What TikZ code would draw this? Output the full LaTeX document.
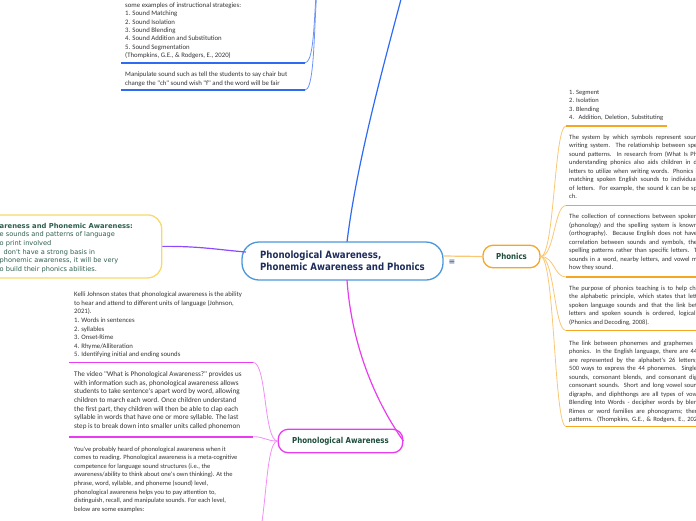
\documentclass[tikz,border=0pt]{standalone}
\usepackage{fontspec}
\setmainfont{Carlito}
\newfontfamily\bodyf{Carlito}
\newfontfamily\headf[FakeStretch=0.86]{DejaVu Sans}
\newfontfamily\yelf{DejaVu Sans}
\definecolor{cblue}{HTML}{4A98DC}
\definecolor{navy}{HTML}{1F2D5C}
\definecolor{orng}{HTML}{F5A623}
\definecolor{orngl}{HTML}{F9C774}
\definecolor{mag}{HTML}{E93CF0}
\definecolor{magl}{HTML}{F28EF6}
\definecolor{yel}{HTML}{F7DA6A}
\definecolor{purp}{HTML}{8C4BFF}
\definecolor{bblue}{HTML}{2F6BF0}
\definecolor{bbluel}{HTML}{6D93F5}
\definecolor{ngreen}{HTML}{1E4D3B}
\definecolor{ytext}{HTML}{2E5E4E}
\definecolor{bodytext}{HTML}{333333}
\newcommand{\cutl}[1]{\makebox[128pt][s]{#1}}
\tikzset{
  body/.style={font=\bodyf\fontsize{6.5}{8.5}\selectfont, text=bodytext, align=left,
    anchor=north west, inner sep=0pt, execute at begin node={\rule{0pt}{5pt}}},
  central/.style={draw=cblue, line width=1.3pt, fill=white, rounded corners=17pt,
    font=\headf\bfseries\fontsize{10}{12}\selectfont, text=navy, align=left,
    minimum width=201pt, minimum height=38pt, inner sep=0pt},
  topic/.style={line width=1.3pt, fill=white, rounded corners=10pt,
    font=\headf\bfseries\fontsize{8.2}{10}\selectfont, text=ngreen, inner sep=0pt},
  uline/.style={line width=1.6pt},
  conn/.style={line width=0.8pt},
}
\begin{document}
\begin{tikzpicture}[x=1pt,y=-1pt]
\useasboundingbox (0,0) rectangle (696,520);
\clip (0,0) rectangle (696,520);

% main connectors (behind nodes)
\coordinate (ctop) at (347,242);
\coordinate (cbot) at (347,280);
\coordinate (bluepar) at (404,-12);
\coordinate (pb) at (325,-40);
\draw[bblue, line width=1.2pt] (ctop) .. controls (357,160) and (385,60) .. (bluepar);

% central node
\node[central] (c) at (342.5,261) {Phonological Awareness,\\Phonemic Awareness and Phonics};
\node[font=\yelf\fontsize{8}{8}\selectfont, text=navy!80!cblue, inner sep=0pt] (menu) at (452,262) {≡};

% Phonics
\node[topic, draw=orng, minimum width=57pt, minimum height=22.5pt] (ph) at (511.5,256.5) {Phonics};
\draw[orngl, line width=1.2pt] ([yshift=5pt]c.east) -- (ph.west);

% Phonological Awareness
\node[topic, draw=mag, minimum width=124.5pt, minimum height=23.5pt] (pa) at (340.5,441) {Phonological Awareness};
\draw[mag, line width=1.2pt] (cbot) .. controls (352,350) and (378,405) .. (pa.east);

% yellow node
\node[draw=yel, line width=1.3pt, fill=white, rounded corners=14pt, minimum width=200pt, minimum height=63pt, inner sep=0pt] (y) at (61.7,246.4) {};
\node[font=\yelf\fontsize{6.6}{8.6}\selectfont, text=ytext, align=left, anchor=north west, inner sep=0pt,
  execute at begin node={\rule{0pt}{5pt}}] (yt) at (-0.5,223)
  {{\bfseries\fontsize{6.8}{8.6}\selectfont areness and Phonemic Awareness:}\\e sounds and patterns of language\\o print involved\\\hphantom{i} don't have a strong basis in\\phonemic awareness, it will be very\\o build their phonics abilities.};
\coordinate (cw) at (246,252);
\draw[purp, line width=1.2pt] (y.east) .. controls (200,246) and (220,250) .. (cw);

% ---------- Phonics children ----------
\coordinate (o1s) at (566,126);   \coordinate (o1e) at (667,126);
\coordinate (o2s) at (566,205.5); \coordinate (o2e) at (700,205.5);
\coordinate (o3s) at (566,277);   \coordinate (o3e) at (700,277);
\coordinate (o4s) at (566,330.5); \coordinate (o4e) at (700,330.5);
\coordinate (o5s) at (566,426.5); \coordinate (o5e) at (700,426.5);
\foreach \k in {1,...,5}{
  \draw[orngl, conn] (ph.east) .. controls +(14,0) and +(-12,0) .. (o\k s);
  \draw[orng, uline] (o\k s) -- (o\k e);
}
\node[body] (b1) at (569,90) {1. Segment\\2. Isolation\\3. Blending\\\makebox[94pt][s]{4. Addition, Deletion, Substituting}};
\node[body] (b2) at (569,134.3) {\cutl{The system by which symbols represent soun}\\\cutl{writing system. The relationship between spe}\\\cutl{sound patterns. In research from (What Is Ph}\\\cutl{understanding phonics also aids children in d}\\\cutl{letters to utilize when writing words. Phonics i}\\\cutl{matching spoken English sounds to individual}\\\cutl{of letters. For example, the sound k can be sp}\\ch.};
\node[body] (b3) at (569,214) {\cutl{The collection of connections between spoken}\\\cutl{(phonology) and the spelling system is known}\\\cutl{(orthography). Because English does not have}\\\cutl{correlation between sounds and symbols, the}\\\cutl{spelling patterns rather than specific letters. T}\\\cutl{sounds in a word, nearby letters, and vowel m}\\how they sound.};
\node[body] (b4) at (569,285.3) {\cutl{The purpose of phonics teaching is to help chi}\\\cutl{the alphabetic principle, which states that lett}\\\cutl{spoken language sounds and that the link bet}\\\cutl{letters and spoken sounds is ordered, logical,}\\(Phonics and Decoding, 2008).};
\node[body] (b5) at (569,340.6) {\cutl{The link between phonemes and graphemes i}\\\cutl{phonics. In the English language, there are 44}\\\cutl{are represented by the alphabet's 26 letters;}\\\cutl{500 ways to express the 44 phonemes. Single}\\\cutl{sounds, consonant blends, and consonant dig}\\\cutl{consonant sounds. Short and long vowel soun}\\\cutl{digraphs, and diphthongs are all types of vow}\\\cutl{Blending Into Words - decipher words by blen}\\\cutl{Rimes or word families are phonograms; ther}\\\cutl{patterns. (Thompkins, G.E., \& Rodgers, E., 202}};

% ---------- top-left (blue) ----------
\coordinate (t1s) at (121,62.7); \coordinate (t1e) at (305,62.7);
\coordinate (t2s) at (121,90);   \coordinate (t2e) at (305,90);
\draw[bbluel, conn] (pb) .. controls +(-14,0) and +(14,0) .. (t1e);
\draw[bbluel, conn] (pb) .. controls +(-14,0) and +(14,0) .. (t2e);
\draw[bblue, uline] (t1s) -- (t1e);
\draw[bblue, uline] (t2s) -- (t2e);
\node[body, font=\bodyf\fontsize{6.8}{8.4}\selectfont] (tl1) at (125,2.3) {some examples of instructional strategies:\\1. Sound Matching\\2. Sound Isolation\\3. Sound Blending\\4. Sound Addition and Substitution\\5. Sound Segmentation\\(Thompkins, G.E., \& Rodgers, E., 2020)};
\node[body, font=\bodyf\fontsize{6.8}{9.3}\selectfont] (tl2) at (125,71.3) {Manipulate sound such as tell the students to say chair but\\change the "ch" sound wish "f" and the word will be fair};

% ---------- Phonological Awareness children ----------
\coordinate (m1s) at (69,362.3); \coordinate (m1e) at (253,362.3);
\coordinate (m2s) at (69,436.7); \coordinate (m2e) at (253,436.7);
\coordinate (m3e) at (253,545);
\draw[magl, conn] (pa.west) .. controls +(-14,0) and +(14,0) .. (m1e);
\draw[magl, conn] (pa.west) .. controls +(-12,0) and +(12,0) .. (m2e);
\draw[magl, conn] (pa.west) .. controls +(-14,0) and +(14,0) .. (m3e);
\draw[mag, uline] (m1s) -- (m1e);
\draw[mag, uline] (m2s) -- (m2e);
\node[body, font=\bodyf\fontsize{6.75}{8.63}\selectfont] (la) at (74,291.6) {Kelli Johnson states that phonological awareness is the ability\\to hear and attend to different units of language (Johnson,\\2021).\\1. Words in sentences\\2. syllables\\3. Onset-Rime\\4. Rhyme/Alliteration\\5. Identifying initial and ending sounds};
\node[body, font=\bodyf\fontsize{7.15}{8.6}\selectfont] (lb) at (74,371.6) {The video "What is Phonological Awareness?" provides us\\with information such as, phonological awareness allows\\students to take sentence's apart word by word, allowing\\children to march each word. Once children understand\\the first part, they children will then be able to clap each\\syllable in words that have one or more syllable. The last\\step is to break down into smaller units called phonemon};
\node[body, font=\bodyf\fontsize{6.5}{8.6}\selectfont] (lc) at (74,446.3) {You've probably heard of phonological awareness when it\\comes to reading. Phonological awareness is a meta-cognitive\\competence for language sound structures (i.e., the\\awareness/ability to think about one's own thinking). At the\\phrase, word, syllable, and phoneme (sound) level,\\phonological awareness helps you to pay attention to,\\distinguish, recall, and manipulate sounds. For each level,\\below are some examples:};
\end{tikzpicture}
\end{document}
